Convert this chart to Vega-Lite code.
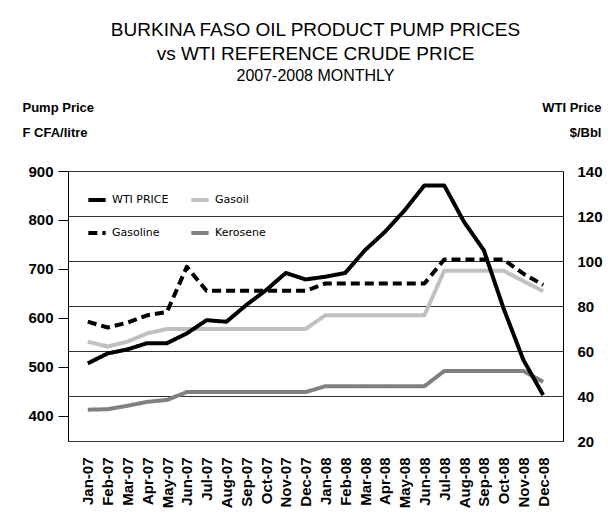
{
  "$schema": "https://vega.github.io/schema/vega-lite/v6.json",
  "autosize": "none",
  "width": 495,
  "height": 270,
  "padding": {"left": 68, "top": 171, "right": 45, "bottom": 79},
  "background": "white",
  "title": {
    "text": ["BURKINA FASO OIL PRODUCT PUMP PRICES", "vs WTI REFERENCE CRUDE PRICE"],
    "subtitle": "2007-2008 MONTHLY",
    "anchor": "middle",
    "font": "Liberation Sans",
    "fontSize": 19,
    "fontWeight": "normal",
    "lineHeight": 24,
    "color": "black",
    "subtitleFont": "Liberation Sans",
    "subtitleFontSize": 16,
    "subtitleColor": "black",
    "subtitlePadding": 4,
    "offset": 17
  },
  "data": {
    "values": [
      {"month": "Jan-07", "series": "WTI PRICE", "value": 54.5},
      {"month": "Feb-07", "series": "WTI PRICE", "value": 58.9},
      {"month": "Mar-07", "series": "WTI PRICE", "value": 60.7},
      {"month": "Apr-07", "series": "WTI PRICE", "value": 63.5},
      {"month": "May-07", "series": "WTI PRICE", "value": 63.5},
      {"month": "Jun-07", "series": "WTI PRICE", "value": 67.8},
      {"month": "Jul-07", "series": "WTI PRICE", "value": 73.7},
      {"month": "Aug-07", "series": "WTI PRICE", "value": 73.0},
      {"month": "Sep-07", "series": "WTI PRICE", "value": 80.4},
      {"month": "Oct-07", "series": "WTI PRICE", "value": 87.0},
      {"month": "Nov-07", "series": "WTI PRICE", "value": 94.7},
      {"month": "Dec-07", "series": "WTI PRICE", "value": 91.8},
      {"month": "Jan-08", "series": "WTI PRICE", "value": 93.0},
      {"month": "Feb-08", "series": "WTI PRICE", "value": 94.7},
      {"month": "Mar-08", "series": "WTI PRICE", "value": 104.8},
      {"month": "Apr-08", "series": "WTI PRICE", "value": 112.9},
      {"month": "May-08", "series": "WTI PRICE", "value": 122.5},
      {"month": "Jun-08", "series": "WTI PRICE", "value": 133.6},
      {"month": "Jul-08", "series": "WTI PRICE", "value": 133.6},
      {"month": "Aug-08", "series": "WTI PRICE", "value": 117.4},
      {"month": "Sep-08", "series": "WTI PRICE", "value": 104.8},
      {"month": "Oct-08", "series": "WTI PRICE", "value": 78.9},
      {"month": "Nov-08", "series": "WTI PRICE", "value": 56.0},
      {"month": "Dec-08", "series": "WTI PRICE", "value": 40.4},

      {"month": "Jan-07", "series": "Gasoline", "value": 592},
      {"month": "Feb-07", "series": "Gasoline", "value": 580},
      {"month": "Mar-07", "series": "Gasoline", "value": 590},
      {"month": "Apr-07", "series": "Gasoline", "value": 605},
      {"month": "May-07", "series": "Gasoline", "value": 612},
      {"month": "Jun-07", "series": "Gasoline", "value": 704},
      {"month": "Jul-07", "series": "Gasoline", "value": 655},
      {"month": "Aug-07", "series": "Gasoline", "value": 655},
      {"month": "Sep-07", "series": "Gasoline", "value": 655},
      {"month": "Oct-07", "series": "Gasoline", "value": 655},
      {"month": "Nov-07", "series": "Gasoline", "value": 655},
      {"month": "Dec-07", "series": "Gasoline", "value": 655},
      {"month": "Jan-08", "series": "Gasoline", "value": 670},
      {"month": "Feb-08", "series": "Gasoline", "value": 670},
      {"month": "Mar-08", "series": "Gasoline", "value": 670},
      {"month": "Apr-08", "series": "Gasoline", "value": 670},
      {"month": "May-08", "series": "Gasoline", "value": 670},
      {"month": "Jun-08", "series": "Gasoline", "value": 670},
      {"month": "Jul-08", "series": "Gasoline", "value": 719},
      {"month": "Aug-08", "series": "Gasoline", "value": 719},
      {"month": "Sep-08", "series": "Gasoline", "value": 719},
      {"month": "Oct-08", "series": "Gasoline", "value": 719},
      {"month": "Nov-08", "series": "Gasoline", "value": 690},
      {"month": "Dec-08", "series": "Gasoline", "value": 667},

      {"month": "Jan-07", "series": "Gasoil", "value": 551},
      {"month": "Feb-07", "series": "Gasoil", "value": 541},
      {"month": "Mar-07", "series": "Gasoil", "value": 551},
      {"month": "Apr-07", "series": "Gasoil", "value": 568},
      {"month": "May-07", "series": "Gasoil", "value": 577},
      {"month": "Jun-07", "series": "Gasoil", "value": 577},
      {"month": "Jul-07", "series": "Gasoil", "value": 577},
      {"month": "Aug-07", "series": "Gasoil", "value": 577},
      {"month": "Sep-07", "series": "Gasoil", "value": 577},
      {"month": "Oct-07", "series": "Gasoil", "value": 577},
      {"month": "Nov-07", "series": "Gasoil", "value": 577},
      {"month": "Dec-07", "series": "Gasoil", "value": 577},
      {"month": "Jan-08", "series": "Gasoil", "value": 605},
      {"month": "Feb-08", "series": "Gasoil", "value": 605},
      {"month": "Mar-08", "series": "Gasoil", "value": 605},
      {"month": "Apr-08", "series": "Gasoil", "value": 605},
      {"month": "May-08", "series": "Gasoil", "value": 605},
      {"month": "Jun-08", "series": "Gasoil", "value": 605},
      {"month": "Jul-08", "series": "Gasoil", "value": 696},
      {"month": "Aug-08", "series": "Gasoil", "value": 696},
      {"month": "Sep-08", "series": "Gasoil", "value": 696},
      {"month": "Oct-08", "series": "Gasoil", "value": 696},
      {"month": "Nov-08", "series": "Gasoil", "value": 675},
      {"month": "Dec-08", "series": "Gasoil", "value": 654},

      {"month": "Jan-07", "series": "Kerosene", "value": 412},
      {"month": "Feb-07", "series": "Kerosene", "value": 413},
      {"month": "Mar-07", "series": "Kerosene", "value": 420},
      {"month": "Apr-07", "series": "Kerosene", "value": 428},
      {"month": "May-07", "series": "Kerosene", "value": 432},
      {"month": "Jun-07", "series": "Kerosene", "value": 448},
      {"month": "Jul-07", "series": "Kerosene", "value": 448},
      {"month": "Aug-07", "series": "Kerosene", "value": 448},
      {"month": "Sep-07", "series": "Kerosene", "value": 448},
      {"month": "Oct-07", "series": "Kerosene", "value": 448},
      {"month": "Nov-07", "series": "Kerosene", "value": 448},
      {"month": "Dec-07", "series": "Kerosene", "value": 448},
      {"month": "Jan-08", "series": "Kerosene", "value": 460},
      {"month": "Feb-08", "series": "Kerosene", "value": 460},
      {"month": "Mar-08", "series": "Kerosene", "value": 460},
      {"month": "Apr-08", "series": "Kerosene", "value": 460},
      {"month": "May-08", "series": "Kerosene", "value": 460},
      {"month": "Jun-08", "series": "Kerosene", "value": 460},
      {"month": "Jul-08", "series": "Kerosene", "value": 491},
      {"month": "Aug-08", "series": "Kerosene", "value": 491},
      {"month": "Sep-08", "series": "Kerosene", "value": 491},
      {"month": "Oct-08", "series": "Kerosene", "value": 491},
      {"month": "Nov-08", "series": "Kerosene", "value": 491},
      {"month": "Dec-08", "series": "Kerosene", "value": 469}
    ]
  },
  "encoding": {
    "x": {
      "field": "month",
      "type": "ordinal",
      "scale": {
        "type": "point",
        "padding": 1.3,
        "domain": ["Jan-07","Feb-07","Mar-07","Apr-07","May-07","Jun-07","Jul-07","Aug-07","Sep-07","Oct-07","Nov-07","Dec-07","Jan-08","Feb-08","Mar-08","Apr-08","May-08","Jun-08","Jul-08","Aug-08","Sep-08","Oct-08","Nov-08","Dec-08"]
      },
      "axis": {
        "title": null,
        "labelAngle": -90,
        "labelFont": "Liberation Sans",
        "labelFontSize": 15,
        "labelFontWeight": "bold",
        "labelColor": "black",
        "labelPadding": 16,
        "labelOverlap": false,
        "ticks": false,
        "domain": false,
        "grid": false
      }
    },
    "color": {
      "field": "series",
      "type": "nominal",
      "scale": {
        "domain": ["WTI PRICE", "Gasoil", "Gasoline", "Kerosene"],
        "range": ["#000000", "#c0c0c0", "#000000", "#808080"]
      },
      "legend": {
        "title": null,
        "orient": "none",
        "legendX": 18,
        "legendY": 18,
        "columns": 2,
        "direction": "horizontal",
        "symbolType": "stroke",
        "symbolStrokeWidth": 4,
        "symbolSize": 300,
        "labelFont": "DejaVu Sans",
        "labelFontSize": 11,
        "labelColor": "black",
        "columnPadding": 14,
        "rowPadding": 14
      }
    },
    "strokeDash": {
      "field": "series",
      "type": "nominal",
      "scale": {
        "domain": ["WTI PRICE", "Gasoil", "Gasoline", "Kerosene"],
        "range": [[1, 0], [1, 0], [9, 5], [1, 0]]
      },
      "legend": {
        "title": null,
        "orient": "none",
        "legendX": 18,
        "legendY": 18,
        "columns": 2,
        "direction": "horizontal",
        "symbolType": "stroke",
        "symbolStrokeWidth": 4,
        "symbolSize": 300,
        "labelFont": "DejaVu Sans",
        "labelFontSize": 11,
        "labelColor": "black",
        "columnPadding": 14,
        "rowPadding": 14
      }
    }
  },
  "layer": [
    {
      "transform": [{"filter": "datum.series !== 'WTI PRICE'"}],
      "mark": {"type": "line", "strokeWidth": 4, "strokeCap": "butt", "strokeJoin": "round"},
      "encoding": {
        "y": {
          "field": "value",
          "type": "quantitative",
          "scale": {"domain": [348, 900], "nice": false, "zero": false},
          "axis": {
            "orient": "left",
            "values": [400, 500, 600, 700, 800, 900],
            "grid": false,
            "domain": false,
            "tickSize": 10,
            "tickColor": "black",
            "labelFont": "Liberation Sans",
            "labelFontSize": 15,
            "labelFontWeight": "bold",
            "labelColor": "black",
            "labelPadding": 5,
            "title": ["Pump Price", "F CFA/litre"],
            "titleAngle": 0,
            "titleAlign": "left",
            "titleBaseline": "top",
            "titleX": -46,
            "titleY": -70,
            "titleFont": "Liberation Sans",
            "titleFontSize": 13,
            "titleFontWeight": "bold",
            "titleColor": "black",
            "titleLineHeight": 25
          }
        }
      }
    },
    {
      "transform": [{"filter": "datum.series === 'WTI PRICE'"}],
      "mark": {"type": "line", "strokeWidth": 4, "strokeCap": "butt", "strokeJoin": "round"},
      "encoding": {
        "y": {
          "field": "value",
          "type": "quantitative",
          "scale": {"domain": [20, 140], "nice": false, "zero": false},
          "axis": {
            "orient": "right",
            "values": [20, 40, 60, 80, 100, 120, 140],
            "grid": true,
            "gridColor": "#333333",
            "gridWidth": 1,
            "gridOpacity": 1,
            "domain": false,
            "ticks": false,
            "labelFont": "Liberation Sans",
            "labelFontSize": 15,
            "labelFontWeight": "bold",
            "labelColor": "black",
            "labelPadding": 14,
            "title": ["WTI Price", "$/Bbl"],
            "titleAngle": 0,
            "titleAlign": "right",
            "titleBaseline": "top",
            "titleX": 38,
            "titleY": -70,
            "titleFont": "Liberation Sans",
            "titleFontSize": 13,
            "titleFontWeight": "bold",
            "titleColor": "black",
            "titleLineHeight": 25
          }
        }
      }
    }
  ],
  "resolve": {"scale": {"y": "independent"}},
  "config": {
    "view": {"stroke": "#000000", "strokeWidth": 1}
  }
}
